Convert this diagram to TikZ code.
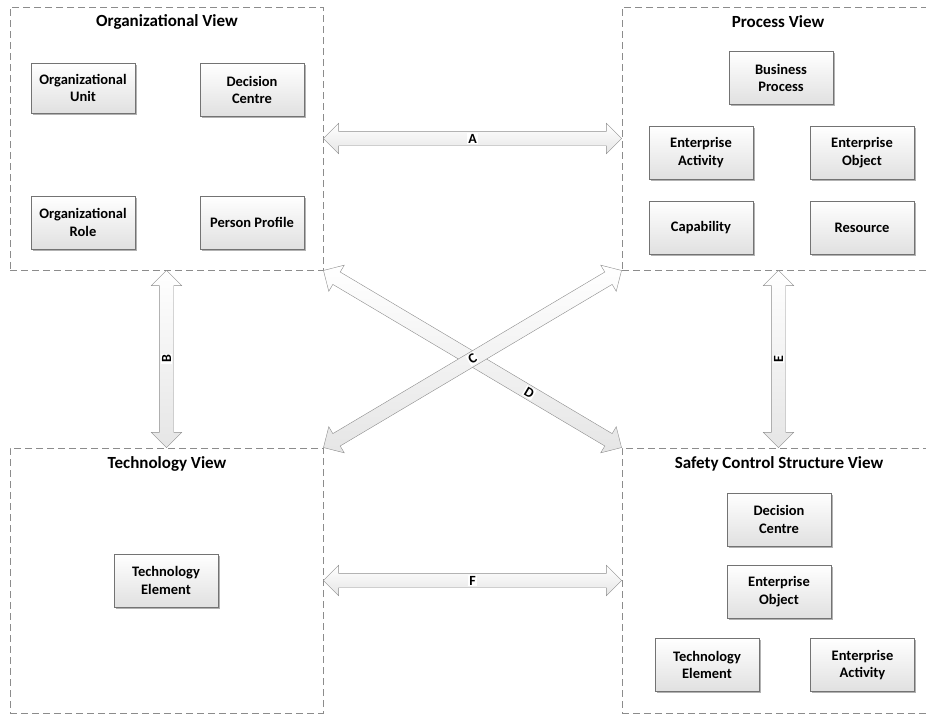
\documentclass[tikz,border=0pt]{standalone}
\usepackage{fontspec}
\setmainfont{Carlito}
\usetikzlibrary{positioning,calc,shapes.arrows,shadows}

\tikzset{
  viewframe/.style={draw=black!45, dash pattern=on 7pt off 4pt, line width=0.9pt, minimum width=313pt, inner sep=0pt},
  viewtitle/.style={font=\fontsize{17}{20}\selectfont\bfseries},
  element/.style={draw=black!55, top color=white, bottom color=black!12, minimum width=104pt, minimum height=53pt, align=center, font=\fontsize{14.5}{17.5}\selectfont\bfseries, drop shadow={shadow xshift=1.5pt, shadow yshift=-1.5pt, opacity=.3, fill=black}},
  linkarrow/.style={double arrow, draw=black!45, top color=white, bottom color=black!10, inner xsep=0pt, inner ysep=7pt, double arrow head extend=8pt},
  linklabel/.style={fill=white, inner sep=1pt, font=\fontsize{14}{14}\selectfont\bfseries}
}

\begin{document}
\begin{tikzpicture}[x=1pt, y=-1pt]
    \path[use as bounding box, clip] (0,0) rectangle (926,715);
    % the four views
    \node[viewframe, minimum height=263pt] (OV) at (166.5,138.5) {};
    \node[viewframe, minimum height=263pt] (PV) at (778.5,138.5) {};
    \node[viewframe, minimum height=265pt] (TV) at (166.5,580.5) {};
    \node[viewframe, minimum height=265pt] (SV) at (778.5,580.5) {};
    \node[viewtitle] (OVt) at (167,22) {Organizational View};
    \node[viewtitle] (PVt) at (778,22) {Process View};
    \node[viewtitle] (TVt) at (167,464) {Technology View};
    \node[viewtitle] (SVt) at (779,464) {Safety Control Structure View};
    % organizational view
    \node[element, minimum height=50pt] (OV1) at (83,88) {Organizational\\Unit};
    \node[element] (OV2) at (252,90) {Decision\\Centre};
    \node[element] (OV3) at (83,222.5) {Organizational\\Role};
    \node[element] (OV4) at (252,222.5) {Person Profile};
    % process view
    \node[element] (PV1) at (781,78) {Business\\Process};
    \node[element] (PV2) at (701,152.5) {Enterprise\\Activity};
    \node[element] (PV3) at (862,152.5) {Enterprise\\Object};
    \node[element] (PV4) at (701,227.5) {Capability};
    \node[element] (PV5) at (862,227.5) {Resource};
    % technology view
    \node[element] (TV1) at (166,580.5) {Technology\\Element};
    % safety control structure view
    \node[element] (SV1) at (779,519.5) {Decision\\Centre};
    \node[element] (SV2) at (779,591.5) {Enterprise\\Object};
    \node[element] (SV3) at (707,665) {Technology\\Element};
    \node[element] (SV4) at (862.5,665) {Enterprise\\Activity};
    % links between the views
    \path let \p1=($(PV.west)-(OV.east)$), \n1={veclen(\x1,\y1)} in (OV.east) -- node[linkarrow, sloped, minimum height=\n1] {} node[linklabel, sloped] {A} (PV.west);
    \path let \p1=($(OV.south)-(TV.north)$), \n1={veclen(\x1,\y1)} in (TV.north) -- node[linkarrow, sloped, minimum height=\n1] {} node[linklabel, sloped] {B} (OV.south);
    \path let \p1=($(SV.north west)-(OV.south east)$), \n1={veclen(\x1,\y1)} in (OV.south east) -- node[linkarrow, sloped, minimum height=\n1] {} node[linklabel, sloped, pos=.69] {D} (SV.north west);
    \path let \p1=($(PV.south west)-(TV.north east)$), \n1={veclen(\x1,\y1)} in (TV.north east) -- node[linkarrow, sloped, minimum height=\n1] {} node[linklabel, sloped] {C} (PV.south west);
    \path let \p1=($(PV.south)-(SV.north)$), \n1={veclen(\x1,\y1)} in (SV.north) -- node[linkarrow, sloped, minimum height=\n1] {} node[linklabel, sloped] {E} (PV.south);
    \path let \p1=($(SV.west)-(TV.east)$), \n1={veclen(\x1,\y1)} in (TV.east) -- node[linkarrow, sloped, minimum height=\n1] {} node[linklabel, sloped] {F} (SV.west);
\end{tikzpicture}
\end{document}
